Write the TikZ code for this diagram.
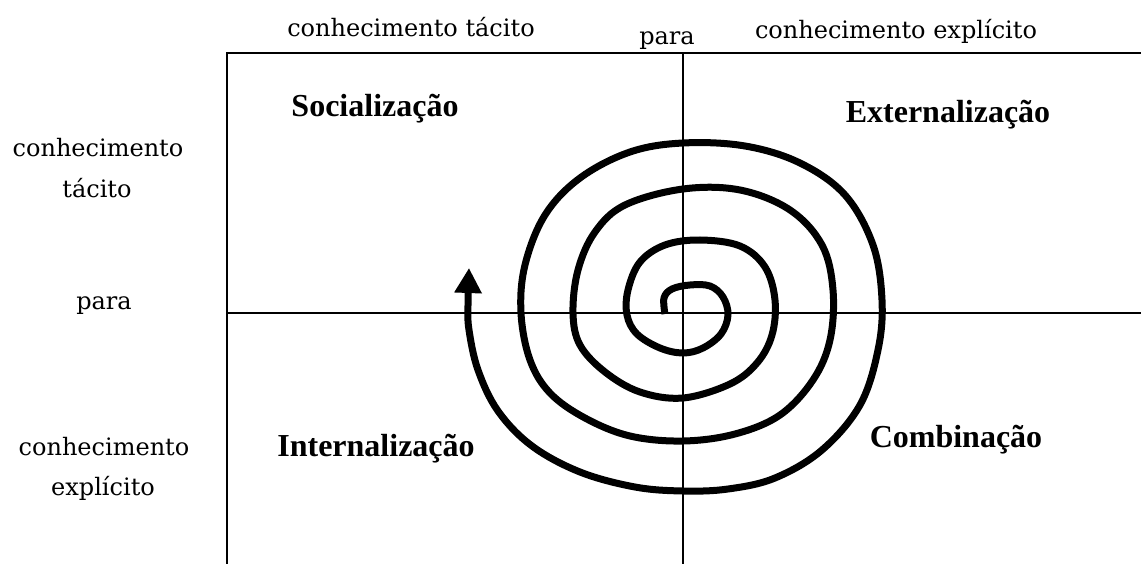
\documentclass[tikz,border=0pt]{standalone}
\usepackage{fontspec}
\setmainfont{Liberation Serif}
\newfontfamily\axisfont{DejaVu Serif}
\usetikzlibrary{arrows.meta}
\usetikzlibrary{positioning}

\begin{document}
\begin{tikzpicture}[x=1pt,y=-1pt,
  axislabel/.style={font=\axisfont\fontsize{24}{28}\selectfont,inner sep=0pt,anchor=base},
  modelabel/.style={font=\bfseries\fontsize{32}{36}\selectfont,inner sep=0pt,anchor=base},
  gridline/.style={line width=1.6pt},
  spiralline/.style={line width=7pt,line join=round,-{Triangle[length=25pt,width=26pt]}}]
  \useasboundingbox (0,0) rectangle (1141,564);

  % quadrant frame
  \coordinate (TL) at (227,53);
  \coordinate (TR) at (1141,53);
  \coordinate (BL) at (227,564);
  \coordinate (MT) at (683,53);
  \coordinate (MB) at (683,564);
  \coordinate (ML) at (227,313);
  \coordinate (MR) at (1141,313);
  \draw[gridline] (TR) -- (TL) -- (BL);
  \draw[gridline] (MT) -- (MB);
  \draw[gridline] (ML) -- (MR);

  % axis texts
  \node[axislabel] (topTac)  at (411,37)  {conhecimento tácito};
  \node[axislabel] (topPara) at (667,45)  {para};
  \node[axislabel] (topExp)  at (896,39)  {conhecimento explícito};
  \node[axislabel] (leftTac1) at (98,157)  {conhecimento};
  \node[axislabel] (leftTac2) at (97,198)  {tácito};
  \node[axislabel] (leftPara) at (104,309) {para};
  \node[axislabel] (leftExp1) at (104,455) {conhecimento};
  \node[axislabel] (leftExp2) at (103,495) {explícito};

  % modes
  \node[modelabel] (soc) at (375,117) {Socialização};
  \node[modelabel] (ext) at (948,123) {Externalização};
  \node[modelabel] (int) at (376,456) {Internalização};
  \node[modelabel] (com) at (956,447) {Combinação};

  % spiral
  \draw[spiralline] plot[smooth,tension=0.6] coordinates {
    (665,314) (664,298) (672,289) (690,285) (710,286) (723,297) (728,315)
    (721,334) (703,348) (683,353) (660,348) (637,334) (627,315) (628,290)
    (640,262) (665,245) (700,240) (740,246) (765,267) (775,300) (772,335)
    (757,363) (730,384) (683,398) (640,392) (605,372) (580,345) (573,313)
    (578,270) (595,232) (625,205) (683,189) (740,190) (790,210) (822,245)
    (833,290) (830,340) (813,380) (780,415) (735,434) (683,441) (630,436)
    (585,418) (550,393) (530,360) (521,313) (525,265) (545,215) (580,178)
    (630,152) (683,143) (745,146) (800,163) (845,195) (873,245) (882,300)
    (878,350) (860,405) (822,450) (775,478) (728,489) (683,491) (635,487)
    (580,472) (532,446) (498,411) (478,370) (469,330) (468,305) (469,268)};
\end{tikzpicture}
\end{document}
